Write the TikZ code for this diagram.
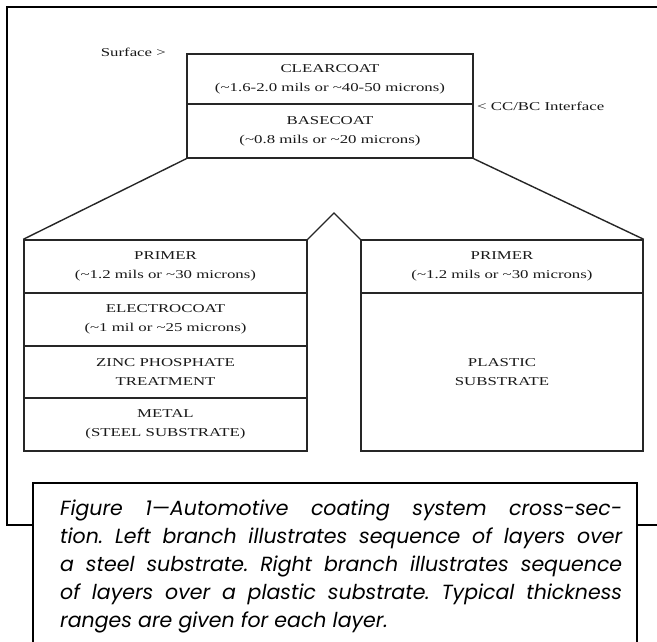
\documentclass[tikz,border=0pt]{standalone}
\usepackage{fontspec}
\newfontfamily\layerfont[FakeStretch=1.4]{Liberation Serif}
\newfontfamily\capfont{Poppins}
\begin{document}
\begin{tikzpicture}[x=1pt,y=-1pt,
  cell/.style={draw=black!85, line width=1.4pt, inner sep=0pt, align=center,
               font=\layerfont\fontsize{12}{19}\selectfont, text=black!90},
  tag/.style={inner sep=0pt, font=\layerfont\fontsize{12}{14}\selectfont, text=black!90},
  branch/.style={draw=black!85, line width=1.4pt},
  frame/.style={draw=black, line width=2pt}]
\useasboundingbox (0,0) rectangle (657,642);
\fill[white] (0,0) rectangle (657,642);

% outer frame, open to the right
\draw[frame] (670,7) -- (7,7) -- (7,525) -- (33,525);
\draw[frame] (637,525) -- (670,525);

% top stack
\node[cell, minimum width=286, minimum height=50] (clear) at (330,79)
  {CLEARCOAT\\(\textasciitilde1.6-2.0 mils or \textasciitilde40-50 microns)};
\node[cell, minimum width=286, minimum height=54] (base) at (330,131)
  {BASECOAT\\(\textasciitilde0.8 mils or \textasciitilde20 microns)};

\node[tag, anchor=east] (surf) at (166,52) {Surface >};
\node[tag, anchor=west] (iface) at (477,106) {< CC/BC Interface};

% left branch: steel substrate
\node[cell, minimum width=283, minimum height=53] (lprimer) at (165.5,266.5)
  {PRIMER\\(\textasciitilde1.2 mils or \textasciitilde30 microns)};
\node[cell, minimum width=283, minimum height=53] (ecoat) at (165.5,319.5)
  {ELECTROCOAT\\(\textasciitilde1 mil or \textasciitilde25 microns)};
\node[cell, minimum width=283, minimum height=52] (zinc) at (165.5,372)
  {ZINC PHOSPHATE\\TREATMENT};
\node[cell, minimum width=283, minimum height=53] (metal) at (165.5,424.5)
  {METAL\\(STEEL SUBSTRATE)};

% right branch: plastic substrate
\node[cell, minimum width=282, minimum height=53] (rprimer) at (502,266.5)
  {PRIMER\\(\textasciitilde1.2 mils or \textasciitilde30 microns)};
\node[cell, minimum width=282, minimum height=158] (plastic) at (502,372)
  {PLASTIC\\SUBSTRATE};

% branching lines
\coordinate (peak) at (334,213);
\draw[branch] (base.south west) -- (lprimer.north west);
\draw[branch] (base.south east) -- (rprimer.north east);
\draw[branch] (lprimer.north east) -- (peak) -- (rprimer.north west);

% caption box
\draw[frame] (33,650) -- (33,483) -- (637,483) -- (637,650);
\node[anchor=base west, inner sep=0pt, font=\capfont\itshape\fontsize{20.5}{28}\selectfont\frenchspacing]
  (caption) at (60,515) {\parbox[t]{562pt}{%
  \makebox[562pt][s]{Figure 1—Automotive coating system cross-sec-}\\
  \makebox[562pt][s]{tion. Left branch illustrates sequence of layers over}\\
  \makebox[562pt][s]{a steel substrate. Right branch illustrates sequence}\\
  \makebox[562pt][s]{of layers over a plastic substrate. Typical thickness}\\
  ranges are given for each layer.}};
\end{tikzpicture}
\end{document}
